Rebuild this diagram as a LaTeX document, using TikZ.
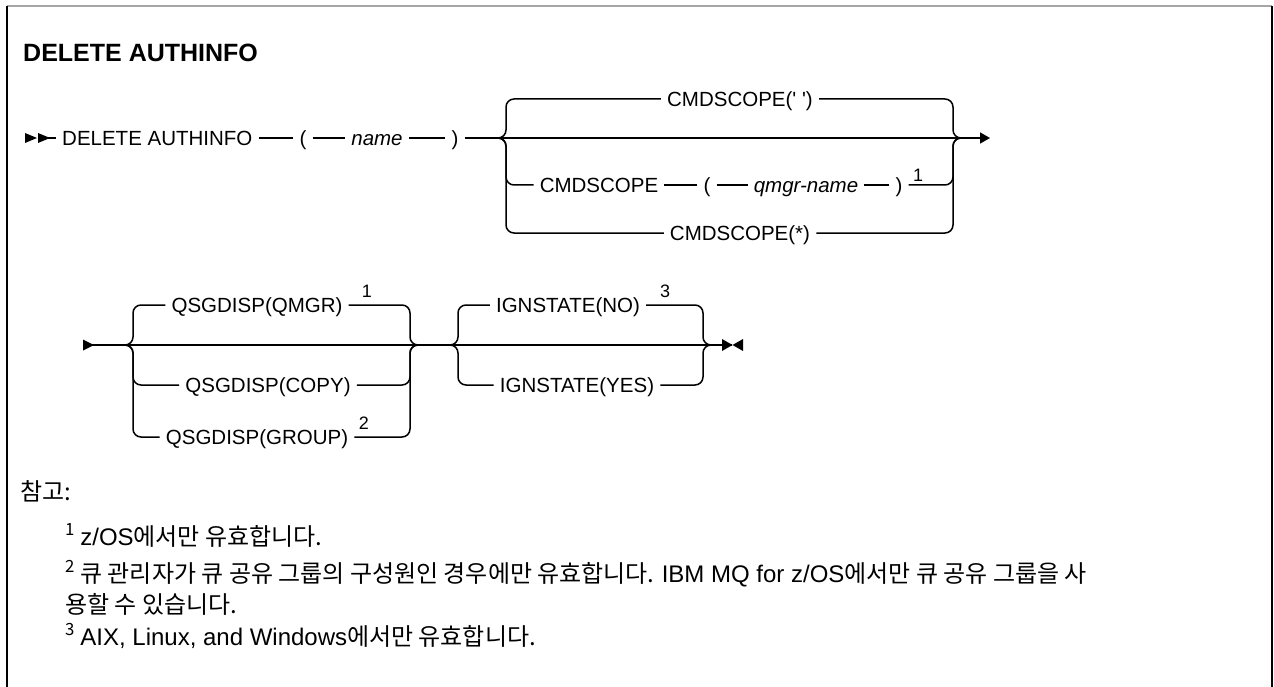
\documentclass[tikz,border=0pt]{standalone}
\usepackage{fontspec}
\newfontfamily\dgf{Liberation Sans}
\newfontfamily\krf{Noto Sans CJK KR}
\newcommand\lat[1]{{\dgf\fontsize{24}{27}\selectfont #1}}
\usetikzlibrary{arrows.meta}
\begin{document}
\begin{tikzpicture}[x=1pt,y=-1pt,
  rail/.style={line width=1.5pt, rounded corners=8pt},
  seg/.style={line width=1.5pt},
  kw/.style={font=\dgf\fontsize{20.5}{24}\selectfont, inner xsep=6pt, inner ysep=0pt, text height=14.7pt, text depth=0pt},
  var/.style={kw, font=\dgf\itshape\fontsize{20.5}{24}\selectfont},
  fnum/.style={font=\dgf\fontsize{18}{20}\selectfont, inner sep=0pt},
  note/.style={font=\krf\fontsize{24}{27}\selectfont, anchor=base west, inner sep=0pt}
]
\useasboundingbox (0,0) rectangle (1274,687);
% frame
\draw[gray!70, line width=2pt] (7,6) -- (1272,6);
\draw[line width=2.2pt] (7,6) -- (7,687);
\draw[line width=2.5pt] (1272,6) -- (1272,687);

\node[font=\dgf\bfseries\fontsize{25}{30}\selectfont, anchor=base west, inner sep=0pt] (title) at (23,62) {DELETE AUTHINFO};

% ---------- row 1 ----------
\fill (25,133) -- (37,138) -- (25,143) -- cycle;
\fill (38,133) -- (50,138) -- (38,143) -- cycle;
\coordinate (s1) at (38,138);
\node[kw, anchor=west] (del) at (56,138) {DELETE AUTHINFO};
\node[kw] (lp1) at (303,138) {(};
\node[var] (nm) at (377,138) {name};
\node[kw] (rp1) at (455,138) {)};
\coordinate (g1L) at (497,138);
\coordinate (g1R) at (962,138);
\coordinate (e1) at (990,138);
\node[kw] (cq) at (740,99) {CMDSCOPE(' ')};
\node[kw] (cs) at (599,185) {CMDSCOPE};
\node[kw] (lp2) at (707,185) {(};
\node[var] (qm) at (806,185) {qmgr-name};
\node[kw] (rp2) at (899,185) {)};
\node[fnum] (f1a) at (918,175) {1};
\node[kw] (ca) at (740,233) {CMDSCOPE(*)};

\draw[seg] (s1) -- (del);
\draw[seg] (del) -- (lp1);
\draw[seg] (lp1) -- (nm);
\draw[seg] (nm) -- (rp1);
\draw[seg, -{Triangle[length=10pt,width=11pt]}] (rp1) -- (e1);
\draw[rail] (g1L) -| (506,99) -- (cq);
\draw[rail] (cq) -| (953,138) -- (g1R);
\draw[rail] (g1L) -| (506,185) -- (cs);
\draw[seg] (cs) -- (lp2);
\draw[seg] (lp2) -- (qm);
\draw[seg] (qm) -- (rp2);
\draw[rail] (rp2) -| (953,138) -- (g1R);
\draw[rail] (g1L) -| (506,233) -- (ca);
\draw[rail] (ca) -| (953,138) -- (g1R);

% ---------- row 2 ----------
\fill (83,339.5) -- (94,345) -- (83,350.5) -- cycle;
\coordinate (s2) at (90,345);
\coordinate (g2L) at (124,345);
\coordinate (g2R) at (419,345);
\coordinate (g3L) at (449,345);
\coordinate (g3R) at (712,345);
\coordinate (e2) at (732,345);
\node[kw] (qq) at (257,305) {QSGDISP(QMGR)};
\node[fnum] (f1b) at (367,291) {1};
\node[kw] (qc) at (268,385) {QSGDISP(COPY)};
\node[kw] (qg) at (257,437) {QSGDISP(GROUP)};
\node[fnum] (f2) at (364,423) {2};
\node[kw] (in) at (568,305) {IGNSTATE(NO)};
\node[fnum] (f3) at (665,291) {3};
\node[kw] (iy) at (577,385) {IGNSTATE(YES)};

\draw[seg] (s2) -- (e2);
\draw[rail] (g2L) -| (133,305) -- (qq);
\draw[rail] (qq) -| (410,345) -- (g2R);
\draw[rail] (g2L) -| (133,385) -- (qc);
\draw[rail] (qc) -| (410,345) -- (g2R);
\draw[rail] (g2L) -| (133,437) -- (qg);
\draw[rail] (qg) -| (410,345) -- (g2R);
\draw[rail] (g3L) -| (458,305) -- (in);
\draw[rail] (in) -| (703,345) -- (g3R);
\draw[rail] (g3L) -| (458,385) -- (iy);
\draw[rail] (iy) -| (703,345) -- (g3R);
\fill (722,339) -- (732.5,345) -- (722,351) -- cycle;
\fill (743,339) -- (732.5,345) -- (743,351) -- cycle;

% ---------- notes ----------
\node[note] (nh) at (20,500) {참고:};
\node[note] (n1) at (65,545) {\textsuperscript{1} \lat{z/OS}에서만 유효합니다.};
\node[note] (n2) at (65,582) {\textsuperscript{2} 큐 관리자가 큐 공유 그룹의 구성원인 경우에만 유효합니다. \lat{IBM MQ for z/OS}에서만 큐 공유 그룹을 사};
\node[note] (n2b) at (65,613) {용할 수 있습니다.};
\node[note] (n3) at (65,645) {\textsuperscript{3} \lat{AIX, Linux, and Windows}에서만 유효합니다.};
\end{tikzpicture}
\end{document}
